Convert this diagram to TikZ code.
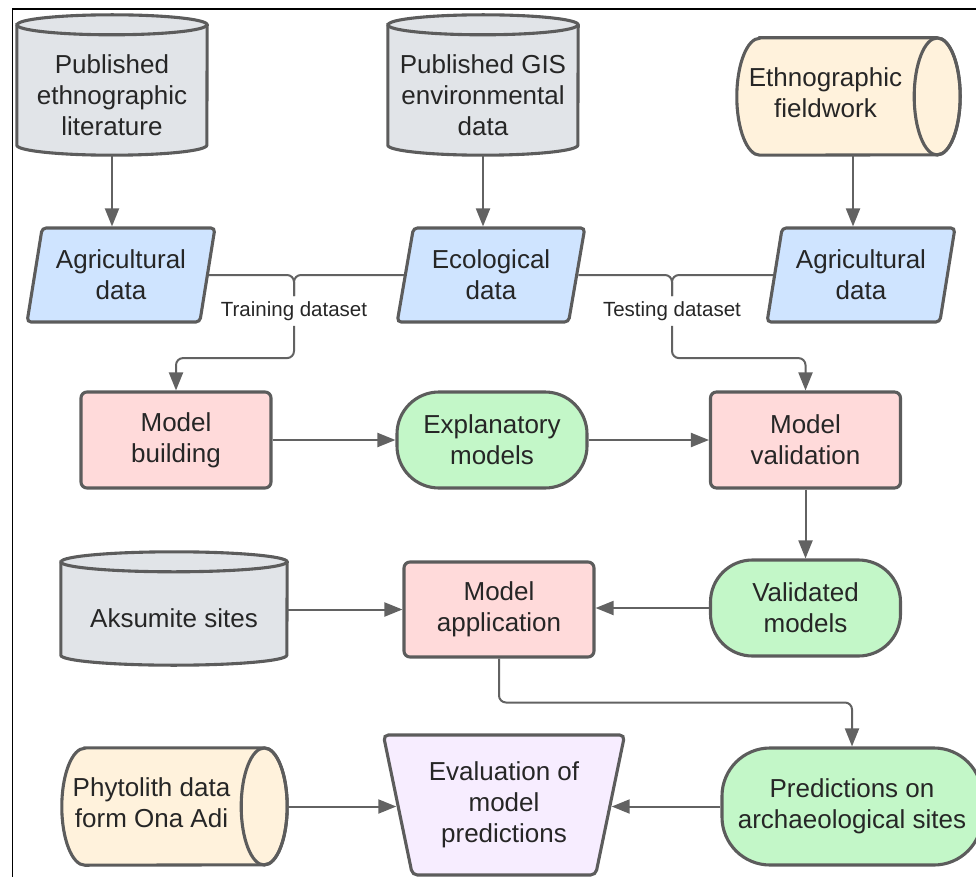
\documentclass[tikz,border=0pt]{standalone}
\usepackage{fontspec}
\setmainfont{Liberation Sans}
\usetikzlibrary{shapes.geometric,arrows.meta,calc}
\pgfdeclarelayer{background}
\pgfsetlayers{background,main}

\definecolor{edgegray}{RGB}{92,92,92}
\definecolor{linkgray}{RGB}{98,98,98}
\definecolor{inkgray}{RGB}{38,38,38}
\definecolor{drumfill}{RGB}{225,228,232}
\definecolor{rollfill}{RGB}{255,242,220}
\definecolor{bluefill}{RGB}{207,228,255}
\definecolor{pinkfill}{RGB}{255,218,218}
\definecolor{greenfill}{RGB}{195,247,200}
\definecolor{lilacfill}{RGB}{247,237,255}

\tikzset{boxtext/.style={text=inkgray,align=center,font=\fontsize{26}{31}\selectfont}}
\tikzset{box/.style={boxtext,draw=edgegray,line width=3.1pt}}
\tikzset{link/.style={draw=linkgray,line width=2pt,rounded corners=7pt}}
\tikzset{flow/.style={link,-{Triangle[length=18pt,width=14pt]}}}

% standing drum round a named node (lid above it)
\newcommand{\dbdrum}[2]{%
  \begin{pgfonlayer}{background}
    \draw[edgegray,line width=3.1pt,fill=drumfill]
      ($(#1.north west)+(0,10)$) -- ($(#1.south west)+(0,10)$)
      arc[start angle=180,end angle=360,x radius=#2pt,y radius=10pt]
      -- ($(#1.north east)+(0,10)$)
      arc[start angle=0,end angle=180,x radius=#2pt,y radius=10pt] -- cycle;
    \draw[edgegray,line width=3.1pt] ($(#1.north west)+(0,10)$)
      arc[start angle=180,end angle=360,x radius=#2pt,y radius=10pt];
  \end{pgfonlayer}}

% lying drum round a named node (face on the right)
\newcommand{\dbroll}[2]{%
  \begin{pgfonlayer}{background}
    \draw[edgegray,line width=3.1pt,fill=rollfill]
      ($(#1.north west)+(23,0)$) -- ($(#1.north east)+(23,0)$)
      arc[start angle=90,end angle=-90,x radius=23pt,y radius=#2pt]
      -- ($(#1.south west)+(23,0)$)
      arc[start angle=270,end angle=90,x radius=23pt,y radius=#2pt] -- cycle;
    \draw[edgegray,line width=3.1pt] ($(#1.east)+(23,0)$)
      ellipse[x radius=23pt,y radius=#2pt];
  \end{pgfonlayer}}

\begin{document}
\begin{tikzpicture}[x=1pt,y=1pt,
    drum/.style={boxtext,inner sep=0pt,minimum width=190pt,minimum height=120pt},
    roll/.style={boxtext,inner sep=0pt,minimum height=117pt,text depth=8pt},
    datapar/.style={box,trapezium,trapezium left angle=77,trapezium right angle=103,
      trapezium stretches=true,rounded corners=4pt,fill=bluefill,
      minimum width=188pt,minimum height=94pt},
    process/.style={box,rectangle,rounded corners=6pt,fill=pinkfill,
      minimum width=190pt,minimum height=96pt},
    terminal/.style={box,rectangle,rounded corners=42pt,fill=greenfill,
      minimum width=190pt,minimum height=96pt},
    evalbox/.style={box,trapezium,trapezium left angle=105,trapezium right angle=105,
      trapezium stretches=true,rounded corners=5pt,fill=lilacfill,
      minimum width=242pt,minimum height=140pt},
    dataset/.style={text=inkgray,inner xsep=2pt,inner ysep=5pt,
      font=\fontsize{20.5}{24}\selectfont}]

  \useasboundingbox (0,0) rectangle (976,-877);

  % Frame
  \draw[black,line width=1.3pt] (12.5,-877) -- (12.5,-9) -- (976,-9);

  % Sources
  \node[drum] (lit) at (112,-95) {Published\\ethnographic\\literature};
  \node[drum] (gis) at (483,-95) {Published GIS\\environmental\\data};
  \node[roll,minimum width=177pt] (eth) at (825.5,-96.5) {Ethnographic\\fieldwork};
  \dbdrum{lit}{95}
  \dbdrum{gis}{95}
  \dbroll{eth}{58.5}

  % Data
  \node[datapar] (agl) at (121,-275) {Agricultural\\data};
  \node[datapar] (eco) at (491,-275) {Ecological\\data};
  \node[datapar] (agr) at (861,-275) {Agricultural\\data};

  \node[dataset] (trn) at (294,-311) {Training dataset};
  \node[dataset] (tst) at (672,-311) {Testing dataset};

  % Models
  \node[process] (mb) at (176,-440) {Model\\building};
  \node[terminal] (exm) at (492,-440) {Explanatory\\models};
  \node[process] (mv) at (805.5,-440) {Model\\validation};

  \node[drum,minimum width=226pt,minimum height=93pt] (aks) at (174,-618.5) {Aksumite sites};
  \dbdrum{aks}{113}
  \node[process,minimum height=95pt] (app) at (499,-609.5) {Model\\application};
  \node[terminal] (val) at (805.5,-608) {Validated\\models};

  % Evaluation
  \node[roll,minimum width=179pt] (phy) at (151.5,-806.5) {Phytolith data\\form Ona Adi};
  \dbroll{phy}{58.5}
  \node[evalbox] (evl) at (504,-805) {Evaluation of\\model\\predictions};
  \node[terminal,minimum width=260pt,minimum height=117pt,rounded corners=48pt]
    (pred) at (852,-806.5) {Predictions on\\archaeological sites};

  % Arrows from the sources
  \draw[flow] (lit.south) -- (lit.south |- agl.north);
  \draw[flow] (gis.south) -- (gis.south |- eco.north);
  \coordinate (eth out) at ($(eth.south)+(27.5,0)$);
  \draw[flow] (eth out) -- (eth out |- agr.north);

  % Training and testing branches
  \draw[link] (agl.right side) -| (trn.north);
  \draw[link] (eco.left side) -| (trn.north);
  \draw[flow] (trn.south) |- ($(trn.south)!0.5!(mb.north)$) -| (mb.north);
  \draw[link] (eco.right side) -| (tst.north);
  \draw[link] (agr.left side) -| (tst.north);
  \draw[flow] (tst.south) |- ($(tst.south)!0.5!(mv.north)$) -| (mv.north);

  % Model chain
  \draw[flow] (mb.east) -- (exm.west);
  \draw[flow] (exm.east) -- (mv.west);
  \draw[flow] (mv.south) -- (val.north);
  \draw[flow] (aks.east |- app.west) -- (app.west);
  \draw[flow] (val.west) -- (val.west -| app.east);
  \draw[flow] (app.south) |- ($(app.south)!0.5!(pred.north)$) -| (pred.north);

  % Into the evaluation
  \coordinate (phy out) at ($(phy.east)+(46,0)$);
  \draw[flow] (phy out) -- (phy out -| evl.left side);
  \draw[flow] (pred.west) -- (pred.west -| evl.right side);

\end{tikzpicture}
\end{document}
